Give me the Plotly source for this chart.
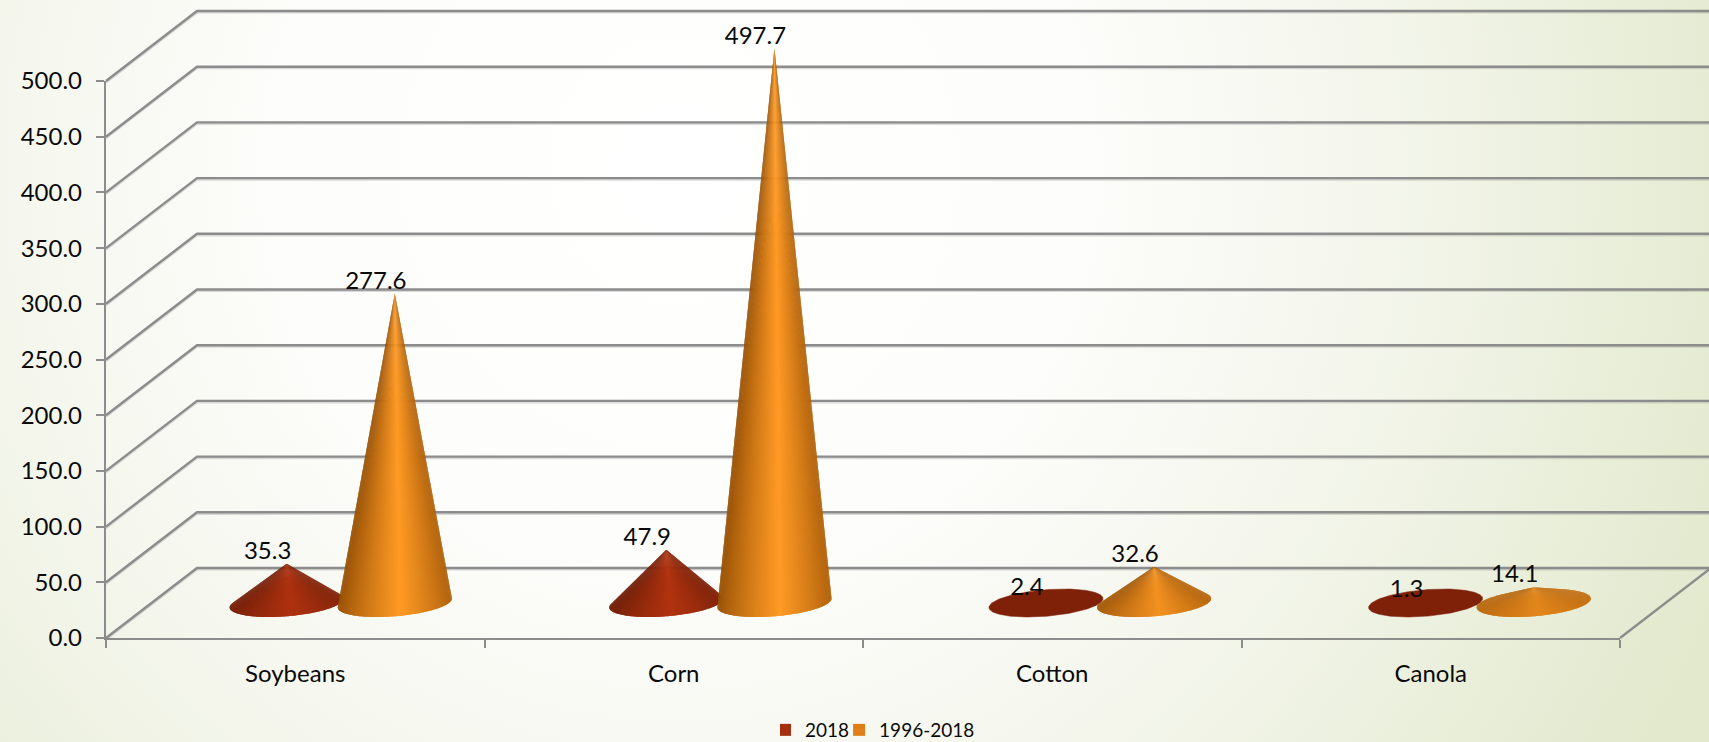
import base64
import numpy as np
import plotly.graph_objects as go

# ---- data ----
categories = ["Soybeans", "Corn", "Cotton", "Canola"]
series_2018 = [35.3, 47.9, 2.4, 1.3]
series_1996_2018 = [277.6, 497.7, 32.6, 14.1]
series_names = ["2018", "1996-2018"]
y_ticks = [0, 50, 100, 150, 200, 250, 300, 350, 400, 450, 500]

# ---- figure geometry ----
W, H = 1709, 742
ML, MR, MT, MB = 106, 89, 81, 104
PX_X = (W - ML - MR) / len(categories)
PX_Y = (H - MT - MB) / 500
DEPTH_X = 91 / PX_X      # oblique shift of the back wall, in x units
DEPTH_Y = 70 / PX_Y      # oblique shift of the back wall, in y units
BAR_W = 1 / 3.5          # gap width 150 %
BASE_DEPTH = 0.2         # base radius as a share of the floor depth
CONE_STEP = 1.003        # the cones drift very slightly against the category ticks

GRID = "#8c8c8c"
PALETTE = [
    {"edge": (108, 30, 8), "mid": (182, 52, 16), "flat": "#7f2109", "legend": "#a5300f"},
    {"edge": (150, 80, 6), "mid": (255, 154, 36), "flat": "#c8700f", "legend": "#e07f18"},
]


def project(x, y, d):
    return x + np.asarray(d) * DEPTH_X, y + np.asarray(d) * DEPTH_Y


def cross(o, a, b):
    return (a[0] - o[0]) * (b[1] - o[1]) - (a[1] - o[1]) * (b[0] - o[0])


def hull(points):
    """Convex hull in pixel-proportional space, returned as indices."""
    scaled = sorted((p[0] * PX_X, p[1] * PX_Y, i) for i, p in enumerate(points))
    def half(seq):
        out = []
        for p in seq:
            while len(out) >= 2 and cross(out[-2], out[-1], p) <= 0:
                out.pop()
            out.append(p)
        return out[:-1]
    ring = half(scaled) + half(scaled[::-1])
    return [p[2] for p in ring]


def mix(a, b, f):
    return tuple(a[i] + (b[i] - a[i]) * f for i in range(3))


def rgb(c):
    return "rgb(%d,%d,%d)" % tuple(round(v) for v in c)


def cone_traces(cx, value, style, axes):
    t = np.linspace(0, 2 * np.pi, 200, endpoint=False)
    bx, by = project(cx + BAR_W / 2 * np.cos(t), 0 * t, 0.5 + BASE_DEPTH * np.sin(t))
    ax, ay = project(cx, value, 0.5)
    pts = list(zip(bx, by)) + [(float(ax), float(ay))]
    ring = hull(pts)
    apex_idx = len(pts) - 1
    common = dict(fill="toself", hoverinfo="skip", showlegend=False, **axes)
    if apex_idx not in ring:
        # the cone is so flat that only its base disc is visible
        return [go.Scatter(x=list(bx) + [bx[0]], y=list(by) + [by[0]], mode="lines", fillcolor=style["flat"],
                           line=dict(color=style["flat"], width=0.5), **common)]
    traces = []
    k = ring.index(apex_idx)
    arc = ring[k + 1:] + ring[:k]
    xs = [pts[a][0] for a in arc]
    if xs[0] > xs[-1]:
        arc, xs = arc[::-1], xs[::-1]
    lo, hi = int(np.argmin(xs)), int(np.argmax(xs))
    xmin, xmax = xs[lo], xs[hi]
    # low, flat cones catch less light and show less contrast
    dim = 1 - 0.50 * np.exp(-value / 22)
    contrast = 1 - np.exp(-value / 18)
    for i in range(len(arc) - 1):
        # shade by position across the base; the parts beyond the extremes stay at the rim colour
        u = 0.0 if i < lo else 1.0 if i >= hi else ((xs[i] + xs[i + 1]) / 2 - xmin) / (xmax - xmin)
        f = max(0.0, 1 - abs(u - 0.55) / 0.55) ** 0.8
        c = rgb(mix(style["edge"], style["mid"], (1 - contrast * (1 - f)) * dim))
        # each wedge overlaps the next, which hides the seams between them
        j = min(i + 2, len(arc) - 1)
        wedge = [arc[m] for m in range(i, j + 1)]
        traces.append(go.Scatter(
            x=[float(ax)] + [pts[m][0] for m in wedge] + [float(ax)],
            y=[float(ay)] + [pts[m][1] for m in wedge] + [float(ay)],
            mode="none", fillcolor=c, **common))
    return traces


fig = go.Figure()
AX = dict(xaxis="x2", yaxis="y2")   # overlay axes spanning the whole page, same scale as the visible axes
n = len(categories)

# visible axes need a trace of their own
fig.add_trace(go.Scatter(x=[0, n], y=[0, 500], mode="none", hoverinfo="skip", showlegend=False))

# back wall and side wall gridlines (each with a faint shadow), floor edge
SHADOW = 1.6 / PX_Y
for v in y_ticks:
    xb, yb = project(np.array([0.0, n]), np.array([v, v]), 1.0)
    xf, yf = project(0.0, v, 0.0)
    gx, gy = [float(xf), xb[0], xb[1]], [float(yf), yb[0], yb[1]]
    fig.add_trace(go.Scatter(x=gx, y=[g - SHADOW for g in gy], mode="lines",
                             line=dict(color="rgba(140,140,140,0.30)", width=2), hoverinfo="skip",
                             showlegend=False, **AX))
    fig.add_trace(go.Scatter(x=gx, y=gy, mode="lines",
                             line=dict(color=GRID, width=2.4), hoverinfo="skip", showlegend=False, **AX))
xr, yr = project(n, 0.0, np.array([0.0, 1.0]))
fig.add_trace(go.Scatter(x=list(xr), y=list(yr), mode="lines", line=dict(color=GRID, width=2.4),
                         hoverinfo="skip", showlegend=False, **AX))

# cones
label_x, label_y, label_t = [], [], []
for i, _ in enumerate(categories):
    for j, vals in enumerate([series_2018, series_1996_2018]):
        cx = 0.5 + i * CONE_STEP + (j - 0.5) * BAR_W
        for tr in cone_traces(cx, vals[i], PALETTE[j], AX):
            fig.add_trace(tr)
        ax, ay = project(cx, vals[i], 0.5)
        label_x.append(float(ax) - 19 / PX_X)
        label_y.append(float(ay) + 11 / PX_Y)
        label_t.append(f"{vals[i]:.1f}")

fig.add_trace(go.Scatter(x=label_x, y=label_y, text=label_t, mode="text",
                         textposition="middle center",
                         textfont=dict(family="Lato", size=24, color="#0a0a0a"),
                         hoverinfo="skip", showlegend=False, **AX))

# legend entries
for name, style in zip(series_names, PALETTE):
    fig.add_trace(go.Scatter(x=[None], y=[None], mode="markers", name=name,
                             marker=dict(symbol="square", size=12, color=style["legend"])))

# page background: soft radial gradient
svg = f'''<svg xmlns="http://www.w3.org/2000/svg" width="{W}" height="{H}" viewBox="0 0 {W} {H}">
<defs><radialGradient id="g" gradientUnits="userSpaceOnUse" cx="680" cy="170" r="1120">
<stop offset="0" stop-color="#ffffff"/><stop offset="0.35" stop-color="#fdfdfb"/>
<stop offset="0.62" stop-color="#f4f6ec"/><stop offset="1" stop-color="#e2e9cd"/>
</radialGradient></defs><rect width="{W}" height="{H}" fill="url(#g)"/></svg>'''
src = "data:image/svg+xml;base64," + base64.b64encode(svg.encode()).decode()

TICKFONT = dict(family="Lato", size=24, color="#0a0a0a")
fig.update_layout(
    width=W, height=H, autosize=False,
    margin=dict(l=0, r=0, t=0, b=0, pad=0, autoexpand=False),
    paper_bgcolor="#f8f9f3", plot_bgcolor="rgba(0,0,0,0)",
    font=dict(family="Lato", size=24, color="#0a0a0a"),
    images=[dict(source=src, xref="paper", yref="paper", x=0, y=1, sizex=1, sizey=1,
                 sizing="stretch", xanchor="left", yanchor="top", layer="below")],
    legend=dict(orientation="h", x=880 / W, xanchor="center", y=1 - 730 / H, yanchor="middle",
                font=dict(family="Lato", size=19, color="#0a0a0a"), bgcolor="rgba(0,0,0,0)",
                itemwidth=30, indentation=-15),
    xaxis=dict(domain=[ML / W, 1 - MR / W], range=[0, n], anchor="y",
               tickmode="array", tickvals=[i + 0.5 for i in range(n)], ticktext=categories,
               ticks="outside", ticklen=0, tickcolor=GRID, showgrid=False, zeroline=False,
               showline=True, linecolor=GRID, linewidth=2.4, ticklabelstandoff=13,
               minor=dict(tickmode="array", tickvals=list(range(n + 1)), ticks="outside", ticklen=8,
                          tickcolor=GRID, tickwidth=2, showgrid=False),
               tickfont=TICKFONT),
    yaxis=dict(domain=[MB / H, 1 - MT / H], range=[0, 500], anchor="x",
               tickmode="array", tickvals=y_ticks, ticktext=[f"{v:.1f}" for v in y_ticks],
               ticks="outside", ticklen=8, tickwidth=2, tickcolor=GRID, showgrid=False, zeroline=False,
               showline=True, linecolor=GRID, linewidth=2.4, ticklabelstandoff=9,
               tickfont=TICKFONT),
    xaxis2=dict(domain=[0, 1], range=[-ML / PX_X, (W - ML) / PX_X], anchor="y2", visible=False),
    yaxis2=dict(domain=[0, 1], range=[-MB / PX_Y, (H - MB) / PX_Y], anchor="x2", visible=False),
)
fig.write_html("out.html", config={"displayModeBar": False},
               post_script="document.body.style.margin='0';document.body.style.overflow='hidden';")
